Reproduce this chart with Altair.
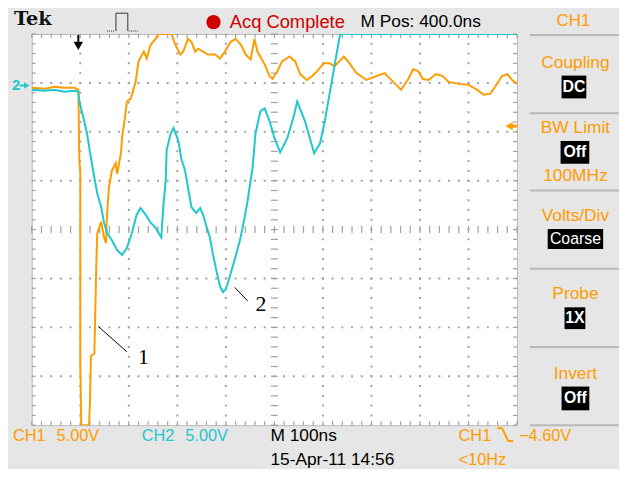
import altair as alt
import pandas as pd

# ---------------- data (time in ns from left edge, volts from screen centre) ----
ch1_t = [0, 27, 47, 67, 88, 96, 98, 100, 100, 102, 118, 120, 122, 129, 131, 133, 135, 143, 149, 153,
         155, 159, 165, 173, 176, 184, 186, 192, 196, 204, 214, 220, 231, 237, 245, 255, 261, 288, 296, 306,
         312, 322, 329, 337, 343, 353, 363, 378, 388, 398, 410, 420, 431, 441, 451, 459, 465, 480, 490, 496,
         506, 516, 531, 543, 553, 567, 578, 588, 602, 614, 624, 643, 655, 669, 690, 710, 727, 745, 761, 776,
         786, 796, 806, 818, 833, 847, 859, 880, 900, 918, 931, 945, 955, 969, 980, 990, 1000]
ch1_v = [14.5, 14.4, 14.6, 14.5, 14.5, 14.3, 7.0, 6.0, -13.7, -20.0, -20.0, -17.6, -12.9, -12.7, -8.2, -3.6, -0.4, 0.8, -0.8, -1.4,
         1.5, 4.3, 6.0, 6.8, 5.7, 7.9, 9.4, 11.4, 13.1, 13.4, 15.1, 17.2, 18.2, 17.5, 18.9, 19.5, 20.0, 20.0, 18.9, 17.9,
         18.2, 19.5, 19.2, 18.2, 18.5, 18.2, 17.9, 17.9, 17.5, 18.2, 19.2, 19.5, 18.9, 17.9, 17.4, 19.5, 18.2, 16.9, 15.7, 15.4,
         16.2, 17.2, 17.7, 17.2, 15.9, 15.3, 15.7, 16.2, 17.0, 17.0, 16.7, 17.7, 17.0, 16.0, 15.3, 15.7, 16.0, 15.1, 14.3, 15.4,
         16.4, 16.2, 15.4, 15.3, 15.9, 15.7, 15.1, 14.9, 14.8, 14.3, 13.8, 13.9, 14.6, 15.7, 15.9, 15.3, 14.9]

ch2_t = [0, 27, 47, 67, 88, 96, 98, 108, 114, 122, 129, 135, 143, 149, 155, 165, 176, 186, 196, 206,
         216, 224, 235, 245, 255, 267, 271, 276, 278, 286, 292, 302, 308, 316, 322, 329, 339, 347, 353, 359,
         367, 373, 380, 388, 394, 400, 408, 418, 429, 439, 445, 455, 461, 471, 480, 490, 500, 512, 527, 541,
         547, 563, 582, 594, 604, 612, 622, 629, 635, 639, 1000]
ch2_v = [14.3, 14.2, 14.3, 14.1, 14.2, 14.1, 13.1, 11.1, 9.8, 7.3, 5.3, 3.7, 2.3, 0.7, -0.3, -1.1, -2.1, -2.6, -1.9, -0.4,
         1.5, 2.2, 1.5, 0.7, 0.2, -0.8, 2.3, 5.0, 8.1, 9.8, 10.4, 9.1, 7.3, 6.0, 4.3, 2.3, 1.7, 2.2, 1.5, 0.5,
         -0.8, -2.4, -4.1, -5.8, -6.4, -6.1, -4.8, -3.1, -1.1, 1.3, 3.0, 6.3, 9.8, 12.1, 12.4, 11.1, 9.4, 7.9, 9.4, 11.8,
         13.1, 11.1, 7.8, 8.8, 11.1, 13.4, 16.2, 18.2, 19.9, 20.0, 20.0]

grid_t = [100, 200, 300, 400, 600, 700, 800, 900]
grid_v = [-15, -10, -5, 5, 10, 15]
minor_t = list(range(0, 1001, 20))
minor_v = list(range(-20, 21))

callout_t1 = [137, 418]
callout_v1 = [-9.9, -5.9]
callout_t2 = [196, 445]
callout_v2 = [-12.5, -7.3]
callout_lt = [219, 461]
callout_lv = [-13.0, -7.6]
callout_txt = ["1", "2"]

# ---------------- styling ----------------
ORANGE = "#ff9c00"
CYAN = "#1ec8cc"
RED = "#d00000"
LINE = "#b9b9b9"
TICK = "#a0a0a0"
UI = "Liberation Sans"
W, H = 490, 395

xs = alt.Scale(domain=[0, 1000], nice=False, zero=False)
ys = alt.Scale(domain=[-20, 20], nice=False, zero=False)


def X(f):
    return alt.X(f, type="quantitative", scale=xs, axis=None)


def Y(f):
    return alt.Y(f, type="quantitative", scale=ys, axis=None)


one = pd.DataFrame({"k": [0]})


def txt(s, x, y, color="black", size=17, align="left", font=UI, weight="normal", baseline="middle"):
    return alt.Chart(one).mark_text(text=s, color=color, fontSize=size, align=align, baseline=baseline,
                                    font=font, fontWeight=weight).encode(x=alt.value(x), y=alt.value(y))


def seg(x1, y1, x2, y2, color, w=1, dash=None):
    kw = dict(color=color, strokeWidth=w)
    if dash:
        kw["strokeDash"] = dash
    return alt.Chart(one).mark_rule(**kw).encode(x=alt.value(x1), y=alt.value(y1),
                                                 x2=alt.value(x2), y2=alt.value(y2))


def box(x1, y1, x2, y2, color="black"):
    return alt.Chart(one).mark_rect(color=color).encode(x=alt.value(x1), y=alt.value(y1),
                                                        x2=alt.value(x2), y2=alt.value(y2))


def pt(shape, x, y, size, color):
    return alt.Chart(one).mark_point(shape=shape, filled=True, size=size, color=color, opacity=1).encode(
        x=alt.value(x), y=alt.value(y))


layers = []

# grid (dotted)
layers.append(alt.Chart(pd.DataFrame({"t": grid_t})).mark_rule(
    color=TICK, strokeWidth=2, strokeDash=[2, 7.875], strokeDashOffset=1).encode(x=X("t")))
layers.append(alt.Chart(pd.DataFrame({"v": grid_v})).mark_rule(
    color=TICK, strokeWidth=2, strokeDash=[2, 7.8], strokeDashOffset=1).encode(y=Y("v")))

# ticks on the border and on the centre cross
mt = alt.Chart(pd.DataFrame({"t": minor_t}))
mv = alt.Chart(pd.DataFrame({"v": minor_v}))
for yy, ln in [(2, 4), (H - 2, 4), (H / 2, 7)]:
    layers.append(mt.mark_tick(orient="vertical", size=ln, thickness=1.2, color=TICK, opacity=1).encode(
        x=X("t"), y=alt.value(yy)))
for xx, ln in [(2, 4), (W - 2, 4), (W / 2, 7)]:
    layers.append(mv.mark_tick(orient="horizontal", size=ln, thickness=1.2, color=TICK, opacity=1).encode(
        y=Y("v"), x=alt.value(xx)))

# traces
d1 = pd.DataFrame({"t": ch1_t, "v": ch1_v, "i": range(len(ch1_t))})
d2 = pd.DataFrame({"t": ch2_t, "v": ch2_v, "i": range(len(ch2_t))})
layers.append(alt.Chart(d1).mark_line(color=ORANGE, strokeWidth=2, clip=True).encode(
    x=X("t"), y=Y("v"), order="i:Q"))
layers.append(alt.Chart(d2).mark_line(color=CYAN, strokeWidth=2, clip=True).encode(
    x=X("t"), y=Y("v"), order="i:Q"))

# callouts
dc = pd.DataFrame({"t1": callout_t1, "v1": callout_v1, "t2": callout_t2, "v2": callout_v2,
                   "lt": callout_lt, "lv": callout_lv, "s": callout_txt})
layers.append(alt.Chart(dc).mark_rule(color="black", strokeWidth=1).encode(
    x=X("t1"), x2="t2", y=Y("v1"), y2="v2"))
layers.append(alt.Chart(dc).mark_text(font="Liberation Serif", fontSize=22, align="left",
                                      baseline="middle", color="black").encode(
    x=X("lt"), y=Y("lv"), text="s:N"))

# screen markers
layers += [
    seg(47, 1, 47, 8, "black", 2), pt("triangle-down", 47, 12, 90, "black"),
    seg(481, 93, 490, 93, ORANGE, 3), pt("triangle-left", 482, 93, 70, ORANGE),
    txt("2", -20, 52, CYAN, 15, weight="bold"), seg(-12, 52, -5, 52, CYAN, 2),
    pt("triangle-right", -5, 52, 40, CYAN),
]

# top bar
layers += [
    txt("Tek", -18, -9.5, "#111111", 19.5, font="DejaVu Serif", weight="bold", baseline="alphabetic"),
    seg(76, -3, 84, -3, "#333333", 1, [1, 1]), seg(85, -3, 85, -21, "#333333", 1),
    seg(85, -21, 97, -21, "#333333", 1), seg(97, -21, 97, -3, "#333333", 1),
    seg(98, -3, 108, -3, "#333333", 1, [1, 1]),
    pt("circle", 183.5, -12, 210, RED),
    txt("Acq Complete", 200, -12.5, RED, 18.5),
    txt("M Pos: 400.0ns", 332, -12.5, "black", 17.5),
    txt("CH1", 547, -13, ORANGE, 17, align="center"),
]

# right menu
for yy in [1, 80, 158, 237, 316, 395]:
    layers.append(seg(503, yy, 593, yy, LINE, 2))
layers += [
    txt("Coupling", 549, 29, ORANGE, 17.5, align="center"),
    box(535, 42, 560, 65), txt("DC", 547.5, 53.5, "white", 16, align="center", weight="bold"),
    txt("BW Limit", 549, 95, ORANGE, 17.5, align="center"),
    box(534, 108, 563, 131), txt("Off", 548.5, 119.5, "white", 16, align="center", weight="bold"),
    txt("100MHz", 549, 143, ORANGE, 17.5, align="center"),
    txt("Volts/Div", 549, 184, ORANGE, 17.5, align="center"),
    box(521, 197, 577, 217), txt("Coarse", 549, 207, "white", 16, align="center"),
    txt("Probe", 549, 263, ORANGE, 17.5, align="center"),
    box(538, 276, 559, 298), txt("1X", 548.5, 287, "white", 16, align="center", weight="bold"),
    txt("Invert", 549, 343, ORANGE, 17.5, align="center"),
    box(535, 356, 563, 380), txt("Off", 549, 368, "white", 16, align="center", weight="bold"),
]

# bottom bar
layers += [
    txt("CH1", -19, 406, ORANGE, 16.5), txt("5.00V", 25, 406, ORANGE, 16.5),
    txt("CH2", 111, 406, CYAN, 16.5), txt("5.00V", 155, 406, CYAN, 16.5),
    txt("M 100ns", 241, 406, "black", 17.5),
    txt("15-Apr-11 14:56", 241, 430, "black", 17.5),
    txt("CH1", 431, 406, ORANGE, 16.5),
    seg(470, 398, 475, 398, ORANGE, 2), seg(475, 398, 481, 411, ORANGE, 2), seg(481, 411, 486, 411, ORANGE, 2),
    txt("\u22124.60V", 492, 406, ORANGE, 16.5),
    txt("<10Hz", 431, 430, ORANGE, 16.5),
]

chart = alt.layer(*layers).properties(
    width=W, height=H,
    autosize=alt.AutoSizeParams(type="none"),
    padding={"left": 24, "top": 24, "right": 103, "bottom": 42},
).configure(background="#e6e6e6").configure_view(fill="white", stroke=LINE, strokeWidth=1)

chart.save("out.html", embed_options={"renderer": "svg", "actions": False})
